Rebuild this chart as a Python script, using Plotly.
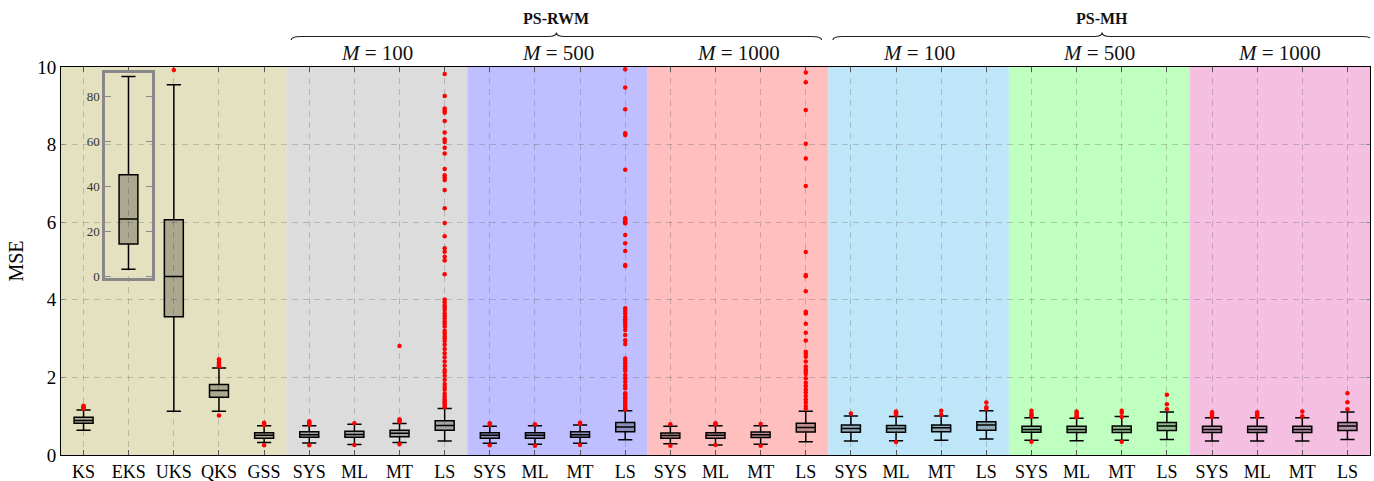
import plotly.graph_objects as go

# ---------------- data ----------------
labels = ["KS", "EKS", "UKS", "QKS", "GSS"] + ["SYS", "ML", "MT", "LS"] * 6

# box statistics (EKS is shown in the inset, so None here)
q1 = [0.82, None, 3.56, 1.49, 0.43,
      0.46, 0.46, 0.47, 0.64,
      0.43, 0.43, 0.46, 0.60,
      0.43, 0.43, 0.45, 0.59,
      0.585, 0.585, 0.60, 0.64,
      0.585, 0.58, 0.58, 0.63,
      0.58, 0.58, 0.58, 0.63]
med = [0.89, None, 4.60, 1.66, 0.51,
       0.52, 0.53, 0.56, 0.76,
       0.51, 0.51, 0.52, 0.72,
       0.50, 0.51, 0.52, 0.71,
       0.68, 0.68, 0.70, 0.77,
       0.66, 0.66, 0.66, 0.75,
       0.66, 0.66, 0.66, 0.75]
q3 = [0.97, None, 6.06, 1.82, 0.575,
      0.60, 0.61, 0.64, 0.88,
      0.575, 0.575, 0.60, 0.84,
      0.567, 0.575, 0.59, 0.82,
      0.77, 0.76, 0.775, 0.86,
      0.74, 0.74, 0.745, 0.84,
      0.74, 0.74, 0.74, 0.84]
lo = [0.64, None, 1.13, 1.13, 0.32,
      0.31, 0.27, 0.32, 0.36,
      0.30, 0.28, 0.30, 0.39,
      0.29, 0.26, 0.28, 0.34,
      0.36, 0.37, 0.38, 0.41,
      0.38, 0.37, 0.38, 0.40,
      0.36, 0.36, 0.36, 0.40]
hi = [1.16, None, 9.54, 2.24, 0.755,
      0.755, 0.79, 0.81, 1.20,
      0.74, 0.755, 0.77, 1.14,
      0.74, 0.755, 0.755, 1.13,
      1.005, 0.99, 1.005, 1.14,
      0.96, 0.95, 0.99, 1.11,
      0.96, 0.96, 0.96, 1.11]

# EKS inset statistics
eks_stats = dict(q1=14.5, median=25.6, q3=45.3, lowerfence=3.3, upperfence=89.0)
inset_ticks = [0, 20, 40, 60, 80]

ls_rwm100 = [9.82, 9.25, 8.93, 8.87, 8.82, 8.61, 8.31, 8.14, 8.07, 7.92, 7.77, 7.37,
             7.21, 7.15, 7.09, 6.83, 6.36, 5.98, 5.64, 5.33, 5.24, 5.11, 5.01, 4.66,
             4.01, 3.94, 3.86, 3.80, 3.74, 3.65, 3.58, 3.52, 3.44, 3.38, 3.31, 3.20,
             3.14, 3.07, 3.01, 2.94, 2.84, 2.73, 2.62, 2.52, 2.41, 2.30, 2.19, 2.13,
             2.04, 1.94, 1.83, 1.75, 1.68, 1.58, 1.51, 1.44, 1.40, 1.35, 1.32, 1.27, 1.23]
ls_rwm500 = [9.94, 9.47, 8.91, 8.29, 8.25, 7.35, 6.10, 6.07, 6.03, 6.00, 5.97, 5.67,
             5.46, 5.26, 4.90, 4.87, 3.78, 3.72, 3.65, 3.56, 3.50, 3.44, 3.38, 3.31,
             3.22, 3.09, 2.96, 2.86, 2.49, 2.43, 2.36, 2.29, 2.23, 2.17, 2.06, 1.98,
             1.89, 1.80, 1.72, 1.59, 1.55, 1.50, 1.46, 1.42, 1.37, 1.33, 1.29, 1.24,
             1.20, 1.17]
ls_rwm1000 = [9.86, 9.61, 8.89, 8.02, 7.64, 6.93, 5.23, 4.64, 4.61, 4.22, 3.69, 3.65,
              3.38, 3.15, 2.95, 2.66, 2.60, 2.53, 2.41, 2.28, 2.21, 2.15, 2.09, 1.98,
              1.86, 1.78, 1.69, 1.61, 1.52, 1.43, 1.35, 1.26, 1.20]

outliers = [
    [1.19, 1.21, 1.23, 1.25, 1.27],            # KS
    [],                                        # EKS
    [9.92],                                    # UKS
    [2.28, 2.31, 2.35, 2.38, 2.42, 2.47, 1.02],  # QKS
    [0.77, 0.80, 0.83, 0.25],                  # GSS
    [0.78, 0.81, 0.84, 0.87, 0.25],            # RWM M=100
    [0.82, 0.26],
    [0.86, 0.89, 0.92, 2.81, 0.28],
    ls_rwm100,
    [0.78, 0.82, 0.25],                        # RWM M=500
    [0.79, 0.24],
    [0.80, 0.83, 0.26],
    ls_rwm500,
    [0.79, 0.24],                              # RWM M=1000
    [0.79, 0.82, 0.26],
    [0.80, 0.24],
    ls_rwm1000,
    [1.07],                                    # MH M=100
    [1.04, 1.07, 1.10, 1.12, 0.335],
    [1.04, 1.14],
    [1.19, 1.23, 1.35],
    [0.99, 1.02, 1.07, 1.14, 0.34],            # MH M=500
    [0.97, 1.00, 1.04, 1.08, 1.12],
    [0.98, 1.09, 1.14, 0.34],
    [1.18, 1.31, 1.55],
    [0.98, 1.02, 1.06, 1.10],                  # MH M=1000
    [0.98, 1.01, 1.05, 1.10],
    [1.00, 1.12],
    [1.18, 1.36, 1.59],
]

group_sizes = [5, 4, 4, 4, 4, 4, 4]
group_colors = ["#e3e1bf", "#dcdcdc", "#bfbfff", "#ffbfbf", "#bfe6f8", "#bfffbf", "#f5bfe1"]
subgroup_labels = ["<i>M</i> = 100", "<i>M</i> = 500", "<i>M</i> = 1000"] * 2
method_labels = ["PS-RWM", "PS-MH"]

# ---------------- figure ----------------
FONT = "Liberation Serif, DejaVu Serif, serif"
fig = go.Figure()

box_style = dict(width=0.42, whiskerwidth=0.75, fillcolor="rgba(0,0,0,0.25)",
                 line=dict(color="black", width=1.5), boxpoints=False,
                 showlegend=False, hoverinfo="skip")

for i, lab in enumerate(labels):
    if q1[i] is not None:
        fig.add_trace(go.Box(x=[i], q1=[q1[i]], median=[med[i]], q3=[q3[i]],
                             lowerfence=[lo[i]], upperfence=[hi[i]], **box_style))
    if outliers[i]:
        fig.add_trace(go.Scatter(x=[i] * len(outliers[i]), y=outliers[i], mode="markers",
                                 marker=dict(color="red", size=4.5), showlegend=False,
                                 hoverinfo="skip"))

# inset EKS box
fig.add_trace(go.Box(x=[0], q1=[eks_stats["q1"]], median=[eks_stats["median"]],
                     q3=[eks_stats["q3"]], lowerfence=[eks_stats["lowerfence"]],
                     upperfence=[eks_stats["upperfence"]], xaxis="x2", yaxis="y2",
                     **{**box_style, "width": 0.40}))

# background bands
shapes = []
start = -0.5
bounds = []
for size, col in zip(group_sizes, group_colors):
    end = start + size
    bounds.append((start, end))
    shapes.append(dict(type="rect", xref="x", yref="paper", x0=start, x1=end, y0=0, y1=1,
                       fillcolor=col, line=dict(width=0), layer="below"))
    start = end

# inset background
shapes.append(dict(type="rect", xref="x2 domain", yref="y2 domain", x0=0, x1=1, y0=0, y1=1,
                   fillcolor=group_colors[0], line=dict(width=0), layer="below"))

annotations = []
# subgroup labels
for (a, b), txt in zip(bounds[1:], subgroup_labels):
    annotations.append(dict(x=(a + b) / 2, y=1.036, xref="x", yref="paper", text=txt,
                            showarrow=False, font=dict(family=FONT, size=21, color="#111"),
                            yanchor="middle"))

# braces + method labels
yE, yM, yT = 1.0696, 1.0786, 1.0889
brace_spans = [(bounds[1][0] + 0.1, bounds[3][1] - 0.15), (bounds[4][0] + 0.1, bounds[6][1] + 0.03)]
for (x0, x1), txt in zip(brace_spans, method_labels):
    xc = (x0 + x1) / 2
    r, rt = 0.22, 0.18
    path = (f"M {x0},{yE} Q {x0},{yM} {x0 + r},{yM} L {xc - rt},{yM} "
            f"Q {xc},{yM} {xc},{yT} Q {xc},{yM} {xc + rt},{yM} "
            f"L {x1 - r},{yM} Q {x1},{yM} {x1},{yE}")
    shapes.append(dict(type="path", xref="x", yref="paper", path=path,
                       line=dict(color="#222", width=1.1)))
    annotations.append(dict(x=xc, y=1.125, xref="x", yref="paper", text=f"<b>{txt}</b>",
                            showarrow=False, font=dict(family=FONT, size=16, color="#111"),
                            yanchor="middle"))

grid_col = "rgba(100,100,100,0.32)"
fig.update_layout(
    width=1374, height=481,
    margin=dict(l=61, r=4, t=67, b=26, autoexpand=False),
    paper_bgcolor="white", plot_bgcolor="rgba(0,0,0,0)",
    font=dict(family=FONT, color="black"),
    shapes=shapes, annotations=annotations,
    boxmode="overlay",
    xaxis=dict(range=[-0.5, 28.5], tickmode="array", tickvals=list(range(len(labels))),
               ticktext=labels, showgrid=True, gridcolor=grid_col, griddash="6px,5px",
               gridwidth=1, ticks="inside", ticklen=5, tickcolor="#555", mirror="allticks",
               showline=True, linecolor="black", linewidth=1, zeroline=False,
               automargin=False, tickfont=dict(size=18, family=FONT)),
    yaxis=dict(range=[0, 10], tickvals=[0, 2, 4, 6, 8, 10], showgrid=True,
               gridcolor=grid_col, griddash="6px,5px", gridwidth=1, ticks="inside",
               ticklen=4, tickcolor="#888", mirror="allticks", showline=True,
               linecolor="black", linewidth=1, zeroline=False, automargin=False,
               tickfont=dict(size=19, family=FONT),
               title=dict(text="MSE", font=dict(size=20, family=FONT), standoff=8)),
    xaxis2=dict(domain=[0.0336, 0.0695], anchor="y2", range=[-0.5, 0.5],
                showticklabels=False, ticks="", showgrid=False, zeroline=False,
                showline=True, linecolor="#888", linewidth=2.5, mirror=True, automargin=False),
    yaxis2=dict(domain=[0.457, 0.984], anchor="x2", range=[-0.5, 90.5],
                tickvals=inset_ticks, showgrid=False, zeroline=False, showline=True,
                linecolor="#888", linewidth=2.5, mirror="allticks", ticks="inside",
                ticklen=6, tickcolor="#888", automargin=False,
                tickfont=dict(size=13, family=FONT, color="#333")),
)

fig.write_html("out.html", config={"displayModeBar": False},
               post_script="document.body.style.margin='0px';document.body.style.overflow='hidden';")
